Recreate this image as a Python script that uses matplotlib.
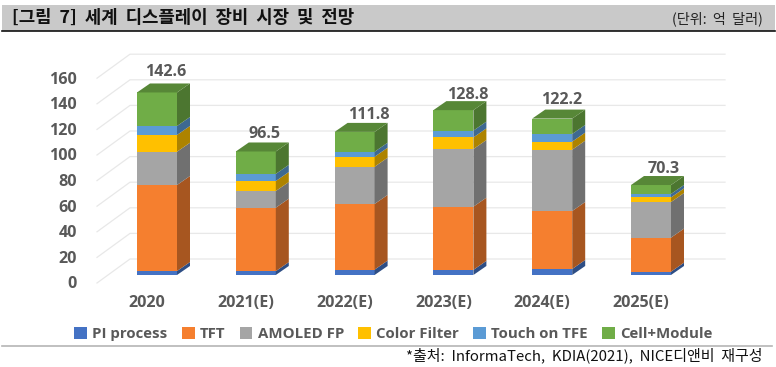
import numpy as np
import matplotlib
matplotlib.use('Agg')
import matplotlib.pyplot as plt
from matplotlib.colors import to_rgb
from matplotlib.patches import Patch, Polygon, Rectangle

plt.rcParams['font.family'] = ['Noto Sans CJK KR', 'DejaVu Sans']

years = ['2020', '2021(E)', '2022(E)', '2023(E)', '2024(E)', '2025(E)']
totals = [142.6, 96.5, 111.8, 128.8, 122.2, 70.3]
series_names = ['PI process', 'TFT', 'AMOLED FP', 'Color Filter', 'Touch on TFE', 'Cell+Module']
pi_process = [3.1, 3.0, 4.2, 4.0, 4.7, 2.6]
tft = [67.2, 49.6, 51.3, 49.4, 45.3, 26.6]
amoled_fp = [26.0, 13.0, 29.1, 45.0, 47.9, 27.8]
color_filter = [13.1, 7.8, 7.8, 9.1, 6.3, 3.6]
touch_on_tfe = [7.0, 5.6, 3.9, 5.3, 6.0, 2.7]
cell_module = [26.2, 17.5, 15.5, 16.0, 12.0, 7.0]
colors = ['#4472C4', '#F57F2F', '#A5A5A5', '#FFC000', '#5B9BD5', '#70AD47']
y_ticks = [0, 20, 40, 60, 80, 100, 120, 140, 160]

PX_W, PX_H = 776, 367
PX_PER_CAT = 98.8
PX_PER_UNIT = 1.28
X0_PX, Y0_PX = 157, 275  # centre of first bar, bar base

# hand placed total labels, pixels from the bar centre / bar top
label_dx = [9, 9, 14, 14, 9, 13]
label_dy = [20, 17, 16.4, 15.6, 18.1, 16.5]


def shade(color, factor):
    return tuple(c * factor for c in to_rgb(color))


def draw_bar(ax, x, bottom, height, color, is_top, width, dx, dy):
    left, right = x - width / 2, x + width / 2
    top = bottom + height
    ax.add_patch(Rectangle((left, bottom), width, height, fc=color, ec='none', zorder=3))
    side = [(right, bottom), (right + dx, bottom + dy), (right + dx, top + dy), (right, top)]
    ax.add_patch(Polygon(side, fc=shade(color, 0.68), ec='none', zorder=3))
    if is_top:
        roof = [(left, top), (right, top), (right + dx, top + dy), (left + dx, top + dy)]
        ax.add_patch(Polygon(roof, fc=shade(color, 0.78), ec='none', zorder=3))


fig = plt.figure(figsize=(PX_W / 100, PX_H / 100), dpi=100)
ax = fig.add_axes([0, 0, 1, 1])
ax.set_xlim(-X0_PX / PX_PER_CAT, (PX_W - X0_PX) / PX_PER_CAT)
ax.set_ylim(-(PX_H - Y0_PX) / PX_PER_UNIT, Y0_PX / PX_PER_UNIT)
ax.axis('off')

px_x = 1 / PX_PER_CAT
px_y = 1 / PX_PER_UNIT


def to_data(x, y):
    return (x - X0_PX) * px_x, (Y0_PX - y) * px_y


# header and footer rules, in pixels from the top left
x1, y1 = to_data(2, 31)
x2, y2 = to_data(775, 5)
ax.add_patch(Rectangle((x1, y1), x2 - x1, y2 - y1, fc='#C9C9C9', ec='none', zorder=1))
ax.plot([x1, x2], [y1, y1], color='#111111', lw=1.2, zorder=2)
x1, y1 = to_data(2, 346)
x2, _ = to_data(772, 346)
ax.plot([x1, x2], [y1, y1], color='#B5B5B5', lw=1.2, zorder=2)

tx, ty = to_data(12, 18)
ax.text(tx, ty, '[그림  7]  세계  디스플레이  장비  시장  및  전망', fontsize=12.85, fontweight='bold',
        color='#111111', va='center', ha='left', zorder=4)
tx, ty = to_data(763, 19)
ax.text(tx, ty, '(단위:  억  달러)', fontsize=10.2, color='#222222', va='center', ha='right', zorder=4)
tx, ty = to_data(762, 355)
ax.text(tx, ty, '*출처:  InformaTech,  KDIA(2021),  NICE디앤비  재구성', fontsize=10.8,
        color='#111111', va='center', ha='right', zorder=4)

# gridlines: back wall plus the receding floor/side lines
wall_dx = 33 * px_x
wall_dy = 24 * px_y
front_x = (97 - X0_PX) * px_x
front_off = -8 * px_y
end_x = (725 - X0_PX) * px_x
for v in y_ticks:
    back_y = v + front_off + wall_dy
    ax.plot([front_x, front_x + wall_dx, end_x], [v + front_off, back_y, back_y],
            color='#E8E8E8', lw=0.9, zorder=1)
    ax.text((77 - X0_PX) * px_x, v - 9.5 * px_y, str(v), fontsize=11.6, fontweight='bold',
            color='#595959', ha='right', va='center', family='Open Sans')

series = [pi_process, tft, amoled_fp, color_filter, touch_on_tfe, cell_module]
bar_w = 40 * px_x
depth_x = 13 * px_x
depth_y = 9 * px_y
for i, year in enumerate(years):
    bottom = 0
    for j, values in enumerate(series):
        draw_bar(ax, i, bottom, values[i], colors[j], j == len(series) - 1, bar_w, depth_x, depth_y)
        bottom += values[i]
    ax.text(i + label_dx[i] * px_x, totals[i] + label_dy[i] * px_y, f'{totals[i]:.1f}', fontsize=11.6,
            fontweight='bold', color='#595959', ha='center', va='center', family='Open Sans', zorder=4)
    ax.text(i - 10 * px_x, -28 * px_y, year, fontsize=11.6, fontweight='bold',
            color='#595959', ha='center', va='center', family='Open Sans')

handles = [Patch(fc=c, ec='none', label=n) for c, n in zip(colors, series_names)]
ax.legend(handles=handles, ncol=6, frameon=False, loc='center', bbox_to_anchor=(393.5 / PX_W, 1 - 334 / PX_H),
          prop={'family': 'Open Sans', 'weight': 'bold', 'size': 10.8}, labelcolor='#595959',
          handlelength=0.85, handleheight=0.85, handletextpad=0.35, columnspacing=0.95)

fig.savefig('out.png', dpi=100)
